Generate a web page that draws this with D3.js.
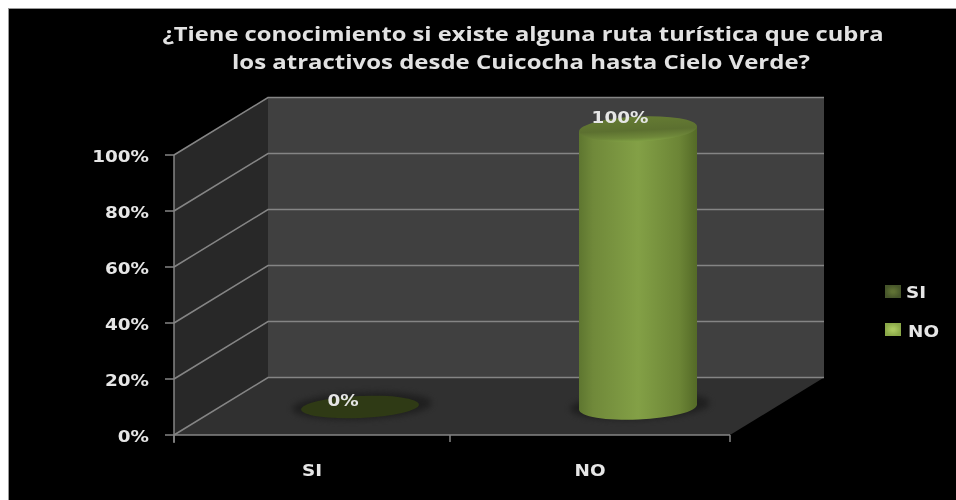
<!DOCTYPE html>
<html><head><meta charset="utf-8">
<script src="https://cdn.jsdelivr.net/npm/d3@7"></script>
<style>html,body{margin:0;background:#fff}svg{display:block;filter:blur(0.5px)}text{font-family:"DejaVu Sans",sans-serif}</style>
</head><body><svg id="c" width="956" height="500"></svg>
<script>
const categories = ["SI", "NO"];
const values = [0, 100];
const ticks = [0, 20, 40, 60, 80, 100];
const titleLines = ["¿Tiene conocimiento si existe alguna ruta turística que cubra", "los atractivos desde Cuicocha hasta Cielo Verde?"];
const titleCentres = [523, 521];
const titleWidths = [721, 578];
const sideStops = [
  [[0, "#2c3615"], [0.5, "#3d4a1c"], [1, "#2c3615"]],
  [[0, "#5e7630"], [0.12, "#70893a"], [0.5, "#83a046"], [0.85, "#6c8536"], [1, "#546a27"]]
];
const legendStops = [["#5f7134", "#46552a"], ["#aac860", "#8aa848"]];
const labelFill = "#e6e6e6";

const svg = d3.select("#c");
const dx = 94, dy = -57.5, midFrac = 0.47;
const x = d3.scaleBand().domain(categories).range([174, 730]);
const y = d3.scaleLinear().domain([0, 100]).range([435, 155]);
const defs = svg.append("defs");

svg.append("rect").attr("width", 956).attr("height", 500).attr("fill", "#fff");
svg.append("rect").attr("x", 8).attr("y", 8).attr("width", 948).attr("height", 492).attr("fill", "#999");
svg.append("rect").attr("x", 9).attr("y", 9).attr("width", 947).attr("height", 491).attr("fill", "#000");

const x0 = x.range()[0], x1 = x.range()[1], yB = y(0), yT = y(100);
const poly = (pts, fill) => svg.append("polygon").attr("points", pts.map(p => p.join(",")).join(" ")).attr("fill", fill);
poly([[x0, yT], [x0 + dx, yT + dy], [x0 + dx, yB + dy], [x0, yB]], "#282828");
poly([[x0 + dx, yT + dy], [x1 + dx, yT + dy], [x1 + dx, yB + dy], [x0 + dx, yB + dy]], "#404040");
poly([[x0, yB], [x0 + dx, yB + dy], [x1 + dx, yB + dy], [x1, yB]], "#303030");

const label = (px, py, str, anchor, bold) => svg.append("text")
  .attr("transform", `translate(${px},${py}) scale(1.15,1)`)
  .attr("text-anchor", anchor).attr("fill", labelFill).attr("font-size", 16)
  .attr("font-weight", bold ? "bold" : "normal").text(str);

const lineCol = "#858585";
ticks.forEach(t => {
  const py = y(t);
  svg.append("path").attr("fill", "none").attr("stroke", lineCol).attr("stroke-width", 1.5)
    .attr("d", d3.line()([[x0, py], [x0 + dx, py + dy], [x1 + dx, py + dy]]));
  svg.append("line").attr("x1", x0 - 9).attr("x2", x0).attr("y1", py).attr("y2", py).attr("stroke", lineCol).attr("stroke-width", 1.5);
  label(x0 - 25, py + 7, t + "%", "end", true);
});
svg.append("line").attr("x1", x0).attr("x2", x0).attr("y1", yT).attr("y2", yB + 8).attr("stroke", lineCol).attr("stroke-width", 1.5);
svg.append("line").attr("x1", x0).attr("x2", x1).attr("y1", yB).attr("y2", yB).attr("stroke", lineCol).attr("stroke-width", 1.5);
[x0, x0 + x.step() - 2, x1].forEach(px => svg.append("line").attr("x1", px).attr("x2", px).attr("y1", yB).attr("y2", yB + 7).attr("stroke", lineCol).attr("stroke-width", 1.5));

// cylinders
const rx = 59, ry = 12.5, tilt = -2.5;
const topGrad = defs.append("linearGradient").attr("id", "topG").attr("x1", 0).attr("x2", 0).attr("y1", 0).attr("y2", 1);
[[0, "#657b33"], [0.55, "#5c7030"], [0.85, "#6f883a"], [1, "#80a044"]].forEach(s => topGrad.append("stop").attr("offset", s[0]).attr("stop-color", s[1]));
categories.forEach((c, i) => {
  const cx = x(c) + x.bandwidth() / 2 + dx / 2;
  const base = y(0) + dy * midFrac - 1, top = y(values[i]) + dy * midFrac + 1;
  const off = rx * Math.sin(-tilt * Math.PI / 180);
  svg.append("ellipse").attr("cx", cx + 2).attr("cy", base - 1).attr("rx", rx + 11).attr("ry", ry + 1)
    .attr("transform", `rotate(${tilt} ${cx} ${base})`).attr("fill", "#1f1f1f").style("filter", "blur(3px)");
  const gid = "g" + i;
  const g = defs.append("linearGradient").attr("id", gid);
  sideStops[i].forEach(s => g.append("stop").attr("offset", s[0]).attr("stop-color", s[1]));
  if (values[i] > 0) {
    svg.append("path").attr("fill", `url(#${gid})`)
      .attr("d", `M${cx - rx},${top + off}L${cx - rx},${base + off}A${rx},${ry} ${tilt} 0 0 ${cx + rx},${base - off}L${cx + rx},${top - off}Z`);
    svg.append("ellipse").attr("cx", cx).attr("cy", top).attr("rx", rx).attr("ry", ry)
      .attr("transform", `rotate(${tilt} ${cx} ${top})`).attr("fill", "url(#topG)");
  } else {
    svg.append("ellipse").attr("cx", cx).attr("cy", base).attr("rx", rx).attr("ry", ry - 1.5)
      .attr("transform", `rotate(${tilt} ${cx} ${base})`).attr("fill", "#2f3a15");
  }
  label(cx - (i ? 18 : 17), top - (i ? 6 : 3), values[i] + "%", "middle", true);
  label(x(c) + x.bandwidth() / 2 - 1, 476, c, "middle", true);
});

// legend
const legendY = d3.scalePoint().domain(categories).range([291.5, 329.5]);
categories.forEach((c, i) => {
  const py = legendY(c);
  const lg = defs.append("radialGradient").attr("id", "leg" + i);
  lg.append("stop").attr("offset", 0.2).attr("stop-color", legendStops[i][0]);
  lg.append("stop").attr("offset", 1).attr("stop-color", legendStops[i][1]);
  svg.append("rect").attr("x", 885).attr("y", py - 6.5).attr("width", 16).attr("height", 13).attr("fill", `url(#leg${i})`);
  label(i ? 908 : 906, py + (i ? 7.5 : 6), c, "start", true);
});

// title
titleLines.forEach((t, i) => {
  svg.append("text").attr("x", titleCentres[i]).attr("y", 41 + i * 28).attr("text-anchor", "middle").attr("fill", "#e2e2e2")
    .style("font-family", "'Open Sans',sans-serif").attr("font-size", 20).attr("font-weight", "bold")
    .attr("textLength", titleWidths[i]).attr("lengthAdjust", "spacingAndGlyphs").text(t);
});
</script></body></html>
